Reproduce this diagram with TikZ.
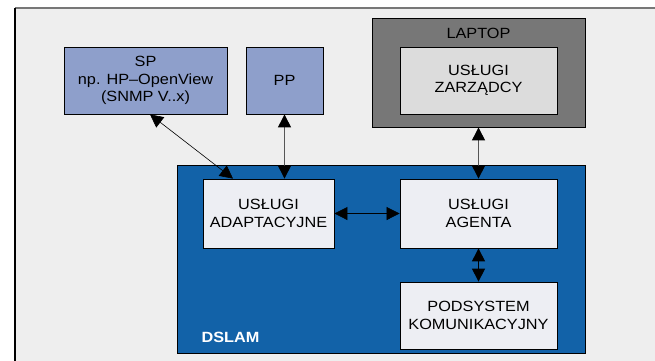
\documentclass[tikz,border=0pt]{standalone}
\usepackage{fontspec}
\setmainfont{Liberation Sans}[FakeStretch=1.1]
\usetikzlibrary{arrows.meta}
\definecolor{bgc}{HTML}{EEEEEE}
\definecolor{spc}{HTML}{8E9FCB}
\definecolor{lapc}{HTML}{777777}
\definecolor{zarc}{HTML}{DCDCDC}
\definecolor{dslc}{HTML}{1262A8}
\definecolor{innc}{HTML}{EDEEF3}
\definecolor{linec}{HTML}{555555}
\tikzset{
  box/.style={draw=black, line width=0.8pt, inner sep=0pt, align=center,
    font=\fontsize{14.8}{17.5}\selectfont, text=black},
  conn/.style={line width=0.7pt, {Triangle[length=13pt,width=13pt,color=black]}-{Triangle[length=13pt,width=13pt,color=black]}},
}
\begin{document}
\begin{tikzpicture}[x=1pt,y=-1pt]
\useasboundingbox (0,0) rectangle (655,360);
\fill[white] (0,0) rectangle (655,360);
\fill[bgc] (15,8) rectangle (665,370);
\draw[lapc, line width=2pt] (15,8) -- (665,8);
\draw[black, line width=1.3pt] (15,7.5) -- (15,370);

\node[box, fill=spc, minimum width=163pt, minimum height=67pt] (sp) at (145.5,80.5)
  {SP\\np. HP--OpenView\\(SNMP V..x)};
\node[box, fill=spc, minimum width=77pt, minimum height=67pt] (pp) at (284.5,80.5) {PP};

\node[box, fill=lapc, minimum width=213pt, minimum height=109pt] (laptop) at (478.5,72.5) {};
\node[font=\fontsize{14.8}{17.5}\selectfont, text=black] (laptoplbl) at (478.5,33) {LAPTOP};
\node[box, fill=zarc, minimum width=157pt, minimum height=67pt] (zarz) at (478.5,80.5)
  {USŁUGI\\ZARZĄDCY};

\node[box, fill=dslc, minimum width=408pt, minimum height=188pt] (dslam) at (381,259) {};
\node[font=\fontsize{14.8}{17.5}\selectfont\bfseries, text=white, anchor=west] (dslamlbl) at (198,337) {DSLAM};

\node[box, fill=innc, minimum width=131pt, minimum height=69pt] (adapt) at (268.5,213.5)
  {USŁUGI\\ADAPTACYJNE};
\node[box, fill=innc, minimum width=157pt, minimum height=69pt] (agent) at (478.5,213.5)
  {USŁUGI\\AGENTA};
\node[box, fill=innc, minimum width=157pt, minimum height=67pt] (podsys) at (478.5,315.5)
  {PODSYSTEM\\KOMUNIKACYJNY};

\draw[conn, line width=0.6pt] ([xshift=4.5pt]sp.south) -- ([xshift=-35.5pt]adapt.north);
\draw[conn, draw=linec, line width=1pt] (pp.south) -- (pp.south |- adapt.north);
\draw[conn, draw=linec, line width=1pt] (laptop.south) -- (agent.north);
\draw[conn] (adapt.east) -- (agent.west);
\draw[conn, line width=1.1pt] (agent.south) -- (podsys.north);
\end{tikzpicture}
\end{document}
